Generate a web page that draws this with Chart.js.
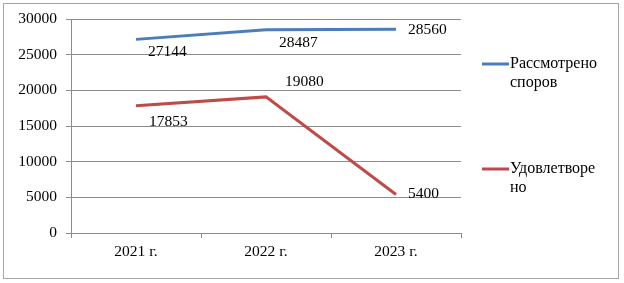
<!DOCTYPE html>
<html>
<head>
<meta charset="utf-8">
<script src="https://cdn.jsdelivr.net/npm/chart.js@4/dist/chart.umd.min.js"></script>
<style>
  html, body { margin: 0; padding: 0; background: #fff; }
  #wrap { position: relative; width: 624px; height: 283px; }
</style>
</head>
<body>
<div id="wrap"><canvas id="chart" width="624" height="283"></canvas></div>
<script>
// --- Data ---
const years = ['2021 г.', '2022 г.', '2023 г.'];
const consideredValues = [27144, 28487, 28560];
const satisfiedValues = [17853, 19080, 5400];
const yTicks = [0, 5000, 10000, 15000, 20000, 25000, 30000];

const FONT = '"Liberation Serif", "Times New Roman", serif';
const FSIZE = 15.5;
const BLUE = '#4a7ebb';
const RED = '#be4b48';
const GRID = '#8c8c8c';

// label offsets relative to each point (style only)
const labelOffsets = [
    [[12, 13], [13, 13], [12, 1]],
    [[13, 16], [19, -15], [12, -1]]
];

const labelsPlugin = {
    id: 'pointLabels',
    afterDatasetsDraw(chart) {
        const ctx = chart.ctx;
        ctx.save();
        ctx.font = FSIZE + 'px ' + FONT;
        ctx.fillStyle = '#000';
        ctx.textAlign = 'left';
        ctx.textBaseline = 'middle';
        chart.data.datasets.forEach((ds, i) => {
            chart.getDatasetMeta(i).data.forEach((pt, j) => {
                const off = labelOffsets[i][j];
                ctx.fillText(String(ds.data[j]), pt.x + off[0], pt.y + off[1]);
            });
        });
        ctx.restore();
    }
};

const frameLegendPlugin = {
    id: 'frameLegend',
    beforeDraw(chart) {
        const ctx = chart.ctx;
        ctx.save();
        ctx.fillStyle = '#fff';
        ctx.fillRect(0, 0, chart.width, chart.height);
        ctx.strokeStyle = '#a6a6a6';
        ctx.lineWidth = 1;
        ctx.strokeRect(3.5, 3.5, 615, 275);
        ctx.restore();
    },
    afterDraw(chart) {
        const ctx = chart.ctx;
        const items = [
            { color: BLUE, lines: ['Рассмотрено', 'споров'], y: 64 },
            { color: RED, lines: ['Удовлетворе', 'но'], y: 169 }
        ];
        ctx.save();
        ctx.font = '16px ' + FONT;
        ctx.textBaseline = 'middle';
        ctx.textAlign = 'left';
        items.forEach(it => {
            ctx.strokeStyle = it.color;
            ctx.lineWidth = 3;
            ctx.beginPath();
            ctx.moveTo(482, it.y);
            ctx.lineTo(509, it.y);
            ctx.stroke();
            ctx.fillStyle = '#000';
            it.lines.forEach((t, k) => ctx.fillText(t, 510, it.y + k * 19));
        });
        ctx.restore();
    }
};

new Chart(document.getElementById('chart'), {
    type: 'line',
    data: {
        labels: years,
        datasets: [
            { label: 'Рассмотрено споров', data: consideredValues, borderColor: BLUE, borderWidth: 3, pointRadius: 0, tension: 0 },
            { label: 'Удовлетворено', data: satisfiedValues, borderColor: RED, borderWidth: 3, pointRadius: 0, tension: 0 }
        ]
    },
    options: {
        responsive: false,
        animation: false,
        layout: { padding: { left: 0, right: 163, top: 19, bottom: 0 } },
        plugins: { legend: { display: false }, tooltip: { enabled: false } },
        scales: {
            x: {
                offset: true,
                grid: { offset: true, drawOnChartArea: false, drawTicks: true, tickLength: 5, color: GRID },
                border: { display: true, color: GRID },
                ticks: { font: { family: FONT, size: FSIZE }, color: '#000', padding: 5, maxRotation: 0 },
                afterFit(scale) { scale.height = 50; }
            },
            y: {
                min: 0,
                max: 30000,
                afterBuildTicks(scale) { scale.ticks = yTicks.map(v => ({ value: v })); },
                grid: { color: GRID, tickLength: 5 },
                border: { display: true, color: GRID },
                ticks: { font: { family: FONT, size: FSIZE }, color: '#000', padding: 9, callback: v => String(v) },
                afterFit(scale) { scale.width = 71; }
            }
        }
    },
    plugins: [frameLegendPlugin, labelsPlugin]
});
</script>
</body>
</html>
